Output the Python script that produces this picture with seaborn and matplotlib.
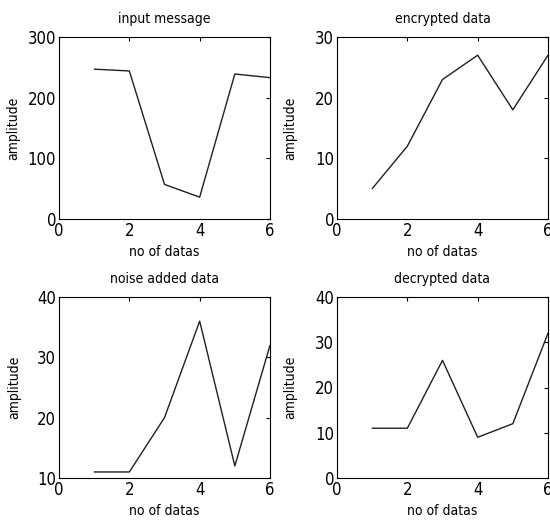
import matplotlib
matplotlib.use("Agg")
import matplotlib.pyplot as plt
import seaborn as sns
import pandas as pd

# values
samples = [1, 2, 3, 4, 5, 6]
input_message = [247, 244, 57, 36, 239, 233]
encrypted_data = [5, 12, 23, 27, 18, 27]
noise_added = [11, 11, 20, 36, 12, 32]
decrypted_data = [11, 11, 26, 9, 12, 32]

titles = ["input message", "encrypted data", "noise added data", "decrypted data"]
ylims = [(0, 300), (0, 30), (10, 40), (0, 40)]
yticks = [[0, 100, 200, 300], [0, 10, 20, 30], [10, 20, 30, 40], [0, 10, 20, 30, 40]]

sns.set_style("white")
plt.rcParams['font.family'] = ['DejaVu Sans']
plt.rcParams['font.stretch'] = 'condensed'
plt.rcParams['text.color'] = 'black'
plt.rcParams['axes.labelcolor'] = 'black'
plt.rcParams['xtick.color'] = 'black'
plt.rcParams['ytick.color'] = 'black'

fig = plt.figure(figsize=(5.5, 5.24), dpi=100)
W, H = 550.0, 524.0
boxes = [(59, 37, 270, 219), (337, 37, 548, 219),
         (59, 297, 270, 478), (337, 297, 548, 478)]
ylab_x = [-0.185, -0.19, -0.18, -0.19]

series = [input_message, encrypted_data, noise_added, decrypted_data]
for i in range(4):
    x0, y0, x1, y1 = boxes[i]
    ax = fig.add_axes([x0 / W, 1 - y1 / H, (x1 - x0) / W, (y1 - y0) / H])
    df = pd.DataFrame({"no of datas": samples, "amplitude": series[i]})
    sns.lineplot(data=df, x="no of datas", y="amplitude", ax=ax,
                 color="#202020", linewidth=1.0)
    ax.set_xlim(0, 6)
    ax.set_ylim(*ylims[i])
    ax.set_xticks([0, 2, 4, 6])
    ax.set_yticks(yticks[i])
    ax.tick_params(direction="in", length=3, top=True, right=True,
                   labelsize=12, width=0.8, pad=2)
    for s in ax.spines.values():
        s.set_color("black")
        s.set_linewidth(0.8)
    ax.set_title(titles[i], fontsize=10, pad=10)
    ax.set_xlabel("no of datas", fontsize=10)
    ax.set_ylabel("amplitude", fontsize=10)
    ax.xaxis.set_label_coords(0.5, -0.145)
    ax.yaxis.set_label_coords(ylab_x[i], 0.5)

fig.savefig("out.png", dpi=100)
